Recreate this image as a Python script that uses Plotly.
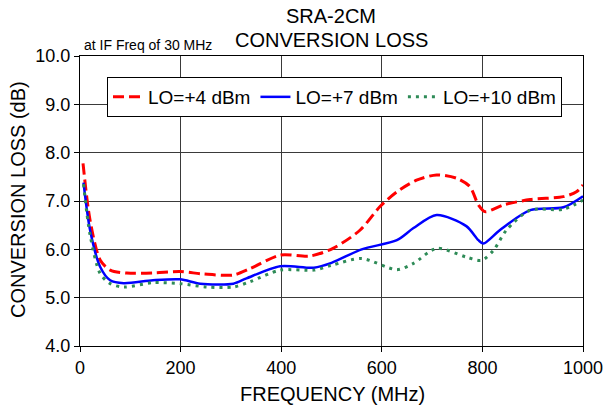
import plotly.graph_objects as go

freq_lo4 = [6, 20, 40, 60, 93, 145, 199, 245, 305, 338, 398, 457, 503, 557, 596, 630, 669, 709, 749, 775, 792, 805, 842, 895, 961, 987, 1000]
loss_lo4 = [7.78, 6.6, 5.78, 5.57, 5.51, 5.51, 5.54, 5.49, 5.47, 5.6, 5.88, 5.86, 6.02, 6.4, 6.88, 7.19, 7.43, 7.54, 7.47, 7.3, 6.92, 6.78, 6.92, 7.03, 7.09, 7.19, 7.33]

freq_lo7 = [7, 20, 40, 60, 87, 145, 199, 239, 305, 331, 398, 465, 500, 560, 630, 663, 709, 768, 792, 802, 835, 895, 961, 1000]
loss_lo7 = [7.38, 6.4, 5.64, 5.36, 5.30, 5.36, 5.38, 5.29, 5.29, 5.40, 5.65, 5.62, 5.72, 6.0, 6.19, 6.44, 6.71, 6.48, 6.19, 6.12, 6.4, 6.81, 6.87, 7.1]

freq_lo10 = [7, 20, 40, 60, 87, 145, 199, 252, 305, 338, 398, 465, 500, 560, 630, 663, 709, 768, 798, 822, 848, 895, 961, 1000]
loss_lo10 = [7.35, 6.3, 5.5, 5.29, 5.22, 5.31, 5.29, 5.22, 5.22, 5.33, 5.57, 5.57, 5.67, 5.81, 5.58, 5.71, 6.02, 5.84, 5.77, 5.98, 6.4, 6.81, 6.83, 7.02]

series_names = ["LO=+4 dBm", "LO=+7 dBm", "LO=+10 dBm"]
x_ticks = [0, 200, 400, 600, 800, 1000]
y_ticks = [4.0, 5.0, 6.0, 7.0, 8.0, 9.0, 10.0]

fig = go.Figure()
fig.add_trace(go.Scatter(x=freq_lo4, y=loss_lo4, mode="lines", name=series_names[0],
                         line=dict(color="#FF0000", width=3, dash="11px,5px", shape="spline", smoothing=0.8)))
fig.add_trace(go.Scatter(x=freq_lo7, y=loss_lo7, mode="lines", name=series_names[1],
                         line=dict(color="#0000FF", width=2.5, shape="spline", smoothing=0.8)))
fig.add_trace(go.Scatter(x=freq_lo10, y=loss_lo10, mode="lines", name=series_names[2],
                         line=dict(color="#2E8B57", width=3, dash="3px,5px", shape="spline", smoothing=0.8)))

font = "Liberation Sans, Arial, sans-serif"
L, R, T, B = 80, 24, 56, 63
H = 409 - T - B
W = 607 - L - R


def py(pix):
    return (409 - B - pix) / H


def px(pix):
    return (pix - L) / W


fig.update_layout(
    width=607, height=409,
    margin=dict(l=L, r=R, t=T, b=B, autoexpand=False),
    paper_bgcolor="white", plot_bgcolor="white",
    font=dict(family=font, size=18, color="black"),
    showlegend=True,
    legend=dict(orientation="h", x=px(107), y=py(77), xanchor="left", yanchor="top",
                bgcolor="white", bordercolor="black", borderwidth=1,
                font=dict(size=19), tracegroupgap=0),
    xaxis=dict(range=[0, 1000], tickvals=x_ticks, ticktext=[str(v) for v in x_ticks],
               showgrid=True, gridcolor="#3a3a3a", gridwidth=1,
               showline=True, linecolor="black", linewidth=1, mirror=True,
               ticks="outside", ticklen=5, tickcolor="black",
               zeroline=False, automargin=False, tickfont=dict(size=18)),
    yaxis=dict(range=[4, 10], tickvals=y_ticks, ticktext=[f"{v:.1f}" for v in y_ticks],
               showgrid=True, gridcolor="#3a3a3a", gridwidth=1,
               showline=True, linecolor="black", linewidth=1, mirror=True,
               ticks="outside", ticklen=5, tickcolor="black",
               zeroline=False, automargin=False, tickfont=dict(size=18)),
    annotations=[
        dict(text="SRA-2CM", x=px(331), y=py(16), xanchor="center", yanchor="middle",
             xref="paper", yref="paper", showarrow=False, font=dict(size=20)),
        dict(text="CONVERSION LOSS", x=px(331), y=py(40), xanchor="center", yanchor="middle",
             xref="paper", yref="paper", showarrow=False, font=dict(size=20)),
        dict(text="at IF Freq of 30 MHz", x=px(82), y=py(45), xanchor="left", yanchor="middle",
             xref="paper", yref="paper", showarrow=False, font=dict(size=14)),
        dict(text="FREQUENCY (MHz)", x=px(332), y=py(394), xanchor="center", yanchor="middle",
             xref="paper", yref="paper", showarrow=False, font=dict(size=20)),
        dict(text="CONVERSION LOSS (dB)", x=px(18), y=py(200), xanchor="center", yanchor="middle",
             xref="paper", yref="paper", showarrow=False, textangle=-90, font=dict(size=20)),
    ],
)

fig.write_html("out.html", config={"displayModeBar": False},
               post_script="document.body.style.margin='0px';document.body.style.overflow='hidden';")
